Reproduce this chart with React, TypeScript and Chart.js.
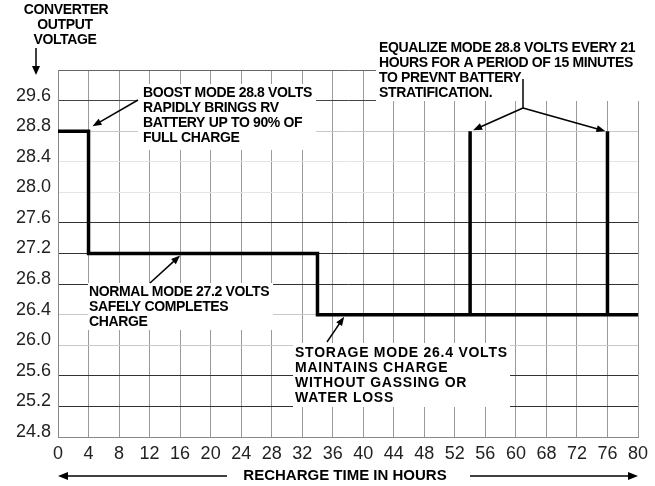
import React, { useEffect, useRef } from "react";
import { Chart, registerables } from "chart.js";
Chart.register(...registerables);

// Axis tick labels (evenly spaced on the original chart)
const xTickLabels = [0, 4, 8, 12, 16, 20, 24, 28, 32, 36, 40, 44, 48, 52, 56, 60, 68, 72, 76, 80];
const yTickLabels = [24.8, 25.2, 25.6, 26.0, 26.4, 26.8, 27.2, 27.6, 28.0, 28.4, 28.8, 29.6];

// Converter output profile: hours -> volts
const hours = [0, 4, 4, 34, 34, 54, 54, 54, 76, 76, 76, 80];
const volts = [28.8, 28.8, 27.2, 27.2, 26.4, 26.4, 28.8, 26.4, 26.4, 28.8, 26.4, 26.4];

const hGridColors = ["#888", "#333", "#333", "#c8c8c8", "#c8c8c8", "#333", "#333", "#333", "#e4e4e4", "#e4e4e4", "#c8c8c8", "#444", "#666"];

function interpPos(labels: number[], v: number): number {
  for (let i = 0; i < labels.length - 1; i++) {
    if (v >= labels[i] && v <= labels[i + 1]) {
      return i + (v - labels[i]) / (labels[i + 1] - labels[i]);
    }
  }
  return labels.length - 1;
}

const FONT = '"Liberation Sans", Arial, sans-serif';

function arrow(ctx: CanvasRenderingContext2D, x1: number, y1: number, x2: number, y2: number, head = 9, hw = 3.5, lw = 1.5) {
  const ang = Math.atan2(y2 - y1, x2 - x1);
  ctx.save();
  ctx.strokeStyle = "#000";
  ctx.fillStyle = "#000";
  ctx.lineWidth = lw;
  ctx.beginPath();
  ctx.moveTo(x1, y1);
  ctx.lineTo(x2 - Math.cos(ang) * head * 0.8, y2 - Math.sin(ang) * head * 0.8);
  ctx.stroke();
  ctx.beginPath();
  ctx.moveTo(x2, y2);
  ctx.lineTo(x2 - Math.cos(ang) * head - Math.sin(ang) * hw, y2 - Math.sin(ang) * head + Math.cos(ang) * hw);
  ctx.lineTo(x2 - Math.cos(ang) * head + Math.sin(ang) * hw, y2 - Math.sin(ang) * head - Math.cos(ang) * hw);
  ctx.closePath();
  ctx.fill();
  ctx.restore();
}

function textBlock(ctx: CanvasRenderingContext2D, lines: string[], x: number, y: number, lh: number, size = 14, spacing = "-0.35px") {
  ctx.save();
  ctx.fillStyle = "#000";
  ctx.font = `bold ${size}px ${FONT}`;
  (ctx as any).letterSpacing = spacing;
  ctx.textBaseline = "middle";
  ctx.textAlign = "left";
  lines.forEach((l, i) => ctx.fillText(l, x, y + i * lh));
  ctx.restore();
}

const annotations = {
  id: "annotations",
  beforeDatasetsDraw(chart: any) {
    const ctx: CanvasRenderingContext2D = chart.ctx;
    ctx.save();
    ctx.fillStyle = "#fff";
    ctx.fillRect(138, 84, 178, 66); // boost
    ctx.fillRect(376, 36, 270, 65); // equalize
    ctx.fillRect(88, 283, 185, 47); // normal
    ctx.fillRect(293, 343, 217, 64); // storage
    ctx.restore();
  },
  afterDraw(chart: any) {
    const ctx: CanvasRenderingContext2D = chart.ctx;
    const xs = chart.scales.x;
    const ys = chart.scales.y;
    const px = (h: number) => xs.getPixelForValue(interpPos(xTickLabels, h));
    const py = (v: number) => ys.getPixelForValue(interpPos(yTickLabels, v));

    // top-left axis title
    ctx.save();
    ctx.fillStyle = "#000";
    ctx.font = `bold 14px ${FONT}`;
    (ctx as any).letterSpacing = "-0.35px";
    ctx.textAlign = "center";
    ctx.textBaseline = "middle";
    ctx.fillText("CONVERTER", 66, 10);
    ctx.fillText("OUTPUT", 65, 25);
    ctx.fillText("VOLTAGE", 65, 40);
    ctx.restore();
    arrow(ctx, 36, 48, 36, 75, 9, 4, 1.5);

    textBlock(ctx, ["BOOST MODE 28.8 VOLTS", "RAPIDLY BRINGS RV", "BATTERY UP TO 90% OF", "FULL CHARGE"], 143, 93, 15);
    arrow(ctx, 138, 100, px(4) + 4, py(28.8) - 5);

    textBlock(ctx, ["EQUALIZE MODE 28.8 VOLTS EVERY 21", "HOURS FOR A PERIOD OF 15 MINUTES", "TO PREVNT BATTERY", "STRATIFICATION."], 379, 48, 15);
    ctx.save();
    ctx.strokeStyle = "#000";
    ctx.lineWidth = 1.5;
    ctx.beginPath();
    ctx.moveTo(523, 79);
    ctx.lineTo(523, 108);
    ctx.stroke();
    ctx.restore();
    arrow(ctx, 523, 108, px(54) + 3, py(28.8) - 1);
    arrow(ctx, 523, 108, px(76) - 2, py(28.8));

    textBlock(ctx, ["NORMAL MODE 27.2 VOLTS", "SAFELY COMPLETES", "CHARGE"], 89, 292, 15);
    arrow(ctx, 150, 283, px(16), py(27.2) + 2);

    textBlock(ctx, ["STORAGE MODE 26.4 VOLTS", "MAINTAINS CHARGE", "WITHOUT GASSING OR", "WATER LOSS"], 295, 353, 15, 14, "0.75px");
    arrow(ctx, 327, 342, px(37.5), py(26.4) + 2);

    // bottom axis title
    ctx.save();
    ctx.fillStyle = "#000";
    ctx.font = `bold 15px ${FONT}`;
    ctx.textAlign = "center";
    ctx.textBaseline = "middle";
    ctx.fillText("RECHARGE TIME IN HOURS", 345, 476);
    ctx.restore();
    arrow(ctx, 227, 476, 58, 476, 10, 4, 1.5);
    arrow(ctx, 470, 476, 638, 476, 10, 4, 1.5);
  },
};

export default function App() {
  const ref = useRef<HTMLCanvasElement>(null);
  useEffect(() => {
    if (!ref.current) return;
    const data = hours.map((h, i) => ({ x: interpPos(xTickLabels, h), y: interpPos(yTickLabels, volts[i]) }));
    const chart = new Chart(ref.current, {
      type: "line",
      data: {
        datasets: [
          {
            data,
            borderColor: "#000",
            borderWidth: 3.5,
            pointRadius: 0,
            tension: 0,
            fill: false,
            borderJoinStyle: "miter",
            borderCapStyle: "butt",
          },
        ],
      },
      options: {
        animation: false,
        responsive: false,
        devicePixelRatio: 1,
        layout: { padding: { top: 70, right: 17, left: 0, bottom: 0 } },
        plugins: { legend: { display: false }, tooltip: { enabled: false } },
        scales: {
          x: {
            type: "linear",
            min: 0,
            max: xTickLabels.length - 1,
            afterFit: (s: any) => { s.height = 49; },
            ticks: {
              stepSize: 1,
              autoSkip: false,
              maxRotation: 0,
              padding: 6,
              color: "#222",
              font: { family: FONT, size: 18 },
              callback: (v: any) => (xTickLabels[v] !== undefined ? String(xTickLabels[v]) : ""),
            },
            grid: { color: "#9a9a9a", lineWidth: 1, drawTicks: false },
            border: { display: true, color: "#888", width: 1 },
          },
          y: {
            type: "linear",
            min: 0,
            max: yTickLabels.length,
            afterFit: (s: any) => { s.width = 58; },
            ticks: {
              stepSize: 1,
              autoSkip: false,
              padding: 7,
              labelOffset: -5,
              color: "#222",
              font: { family: FONT, size: 18 },
              callback: (v: any) => (yTickLabels[v] !== undefined ? yTickLabels[v].toFixed(1) : ""),
            },
            grid: {
              color: (c: any) => hGridColors[c.index] ?? "#888",
              lineWidth: 1,
              drawTicks: false,
            },
            border: { display: true, color: "#888", width: 1 },
          },
        },
      },
      plugins: [annotations],
    });
    return () => chart.destroy();
  }, []);
  return (
    <canvas
      ref={ref}
      width={655}
      height={486}
      style={{ position: "absolute", left: 0, top: 0, width: 655, height: 486, display: "block" }}
    />
  );
}
